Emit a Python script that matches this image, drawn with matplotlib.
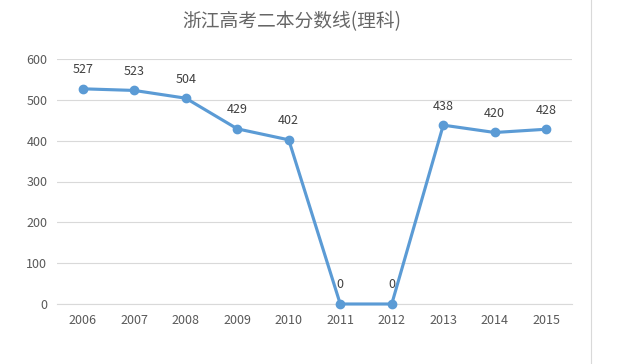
import matplotlib.pyplot as plt

plt.rcParams['font.family'] = ['Noto Sans CJK SC', 'DejaVu Sans']

# 浙江高考二本分数线(理科)
years = ['2006', '2007', '2008', '2009', '2010', '2011', '2012', '2013', '2014', '2015']
scores = [527, 523, 504, 429, 402, 0, 0, 438, 420, 428]

fig = plt.figure(figsize=(6.44, 3.64), dpi=100)
ax = fig.add_axes([57 / 644, 1 - 304 / 364, 515 / 644, 245 / 364])

x = list(range(len(years)))
ax.plot(x, scores, color='#5B9BD5', linewidth=2.25, marker='o', markersize=6,
        clip_on=False, zorder=3)

for xi, v in zip(x, scores):
    ax.annotate(str(v), (xi, v), xytext=(0, 9), textcoords='offset points',
                ha='center', va='bottom', fontsize=9, color='#404040')

ax.set_xlim(-0.5, len(years) - 0.5)
ax.set_ylim(0, 600)
ax.set_yticks(range(0, 601, 100))
ax.set_xticks(x)
ax.set_xticklabels(years)
ax.grid(axis='y', color='#D9D9D9', linewidth=0.8)
ax.set_axisbelow(True)
for s in ['top', 'right', 'left']:
    ax.spines[s].set_visible(False)
ax.spines['bottom'].set_color('#D9D9D9')
ax.tick_params(length=0, labelsize=9, colors='#595959', pad=7)

fig.text(292 / 644, 1 - 22 / 364, '浙江高考二本分数线(理科)', ha='center', va='center',
         fontsize=13.5, color='#666666')

# chart border on the right
fig.add_artist(plt.Line2D([591 / 644, 591 / 644], [0, 1], color='#D9D9D9', linewidth=0.8))

fig.savefig('out.png', dpi=100)
